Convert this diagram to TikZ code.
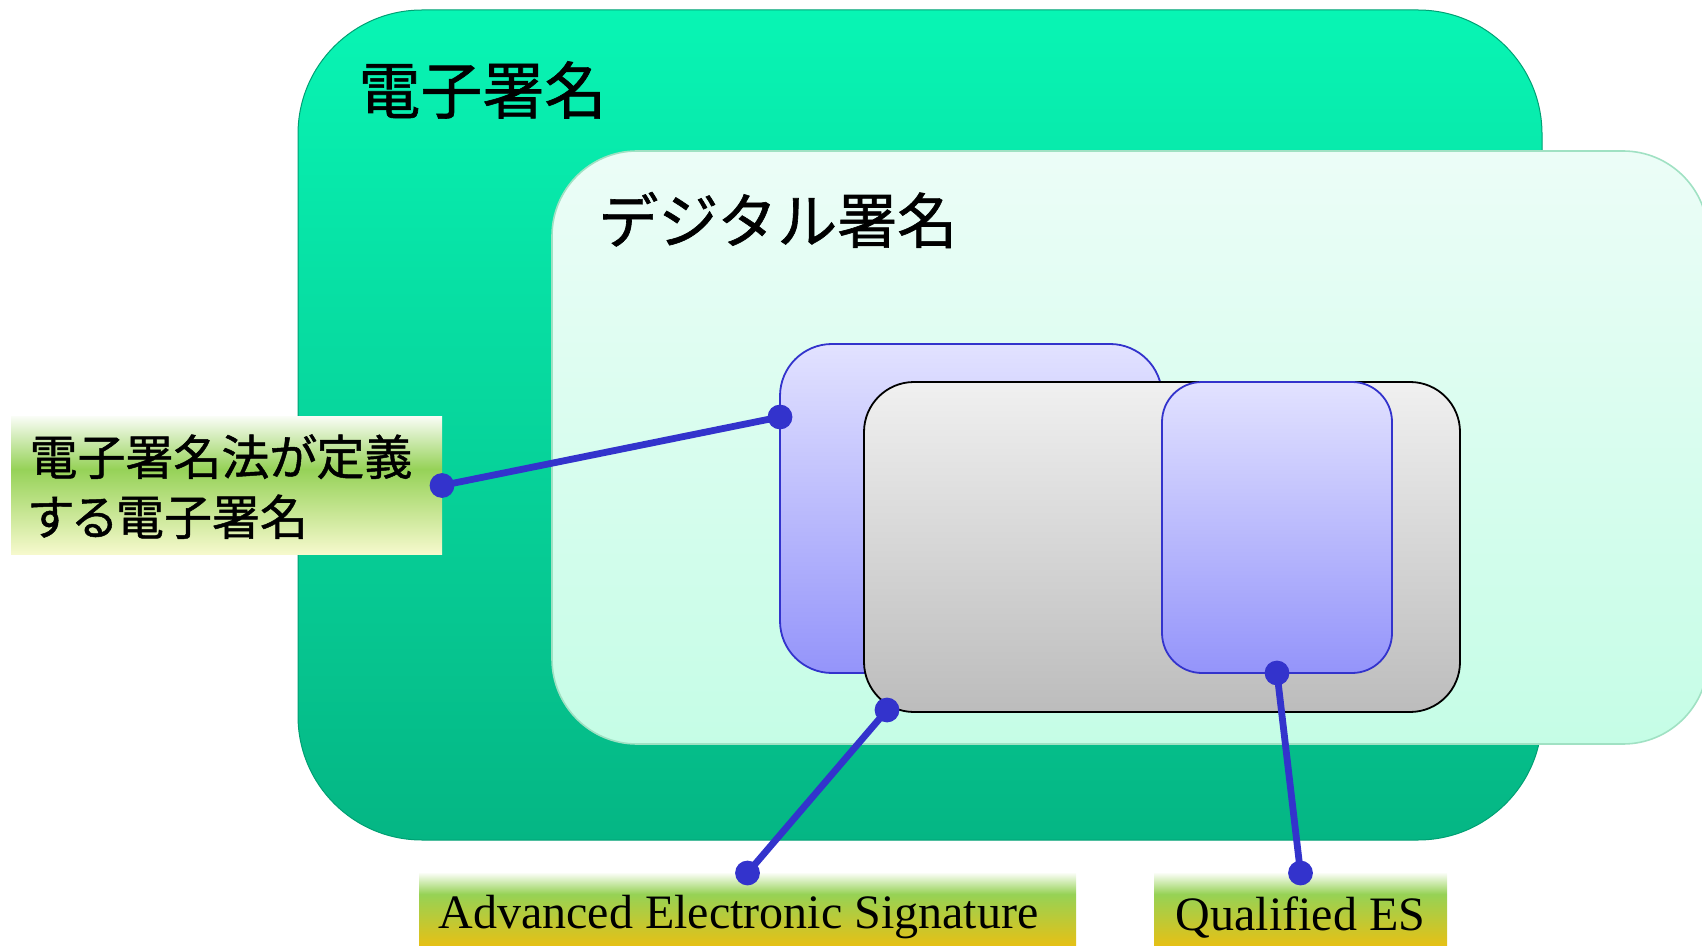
\documentclass[tikz,border=0pt]{standalone}
\usepackage{fontspec}
\setmainfont{Liberation Serif}
\newfontfamily\jp[FakeBold=1]{Noto Sans CJK JP}
\newfontfamily\jpp[FakeBold=1,RawFeature=+palt]{Noto Sans CJK JP}
\usetikzlibrary{calc}
\definecolor{grtop}{RGB}{8,245,180}
\definecolor{grbot}{RGB}{5,182,132}
\definecolor{grline}{RGB}{0,160,115}
\definecolor{mtop}{RGB}{236,253,247}
\definecolor{mbot}{RGB}{197,253,230}
\definecolor{mline}{RGB}{160,225,195}
\definecolor{ptop}{RGB}{226,226,255}
\definecolor{pbot}{RGB}{148,148,250}
\definecolor{pline}{RGB}{51,51,204}
\definecolor{gtop}{RGB}{240,240,240}
\definecolor{gbot}{RGB}{188,188,188}
\definecolor{connc}{RGB}{51,51,204}
\definecolor{lwht}{RGB}{248,252,244}
\definecolor{lgrn}{RGB}{150,210,88}
\definecolor{lyel}{RGB}{246,249,205}
\definecolor{bwht}{RGB}{250,253,246}
\definecolor{bgrn}{RGB}{150,210,85}
\definecolor{bgold}{RGB}{232,192,20}
\pgfdeclareverticalshading{leftlblshade}{100bp}{color(0bp)=(lyel); color(25bp)=(lyel); color(56bp)=(lgrn); color(75bp)=(lwht); color(100bp)=(lwht)}
\pgfdeclareverticalshading{botlblshade}{100bp}{color(0bp)=(bgold); color(33bp)=(bgold); color(63bp)=(bgrn); color(75bp)=(bwht); color(100bp)=(bwht)}
\tikzset{
  box/.style={rectangle, inner sep=0pt, outer sep=0pt},
  purplebox/.style={box, top color=ptop, bottom color=pbot, draw=pline, line width=0.9pt},
  conn/.style={draw=connc, line width=3.4pt},
  dot/.style={fill=connc},
  jptitle/.style={anchor=west, inner sep=0pt, font=\jp\fontsize{#1}{#1}\selectfont},
  botlbl/.style={box, shade, shading=botlblshade, minimum height=44pt, font=\fontsize{24pt}{28pt}\selectfont}
}
\begin{document}
\begin{tikzpicture}[x=0.5pt,y=-0.5pt]
\useasboundingbox (0,0) rectangle (1702,946);
\clip (0,0) rectangle (1702,946);
% outer box
\node[box, minimum width=622pt, minimum height=415pt, rounded corners=62pt,
      top color=grtop, bottom color=grbot, draw=grline, line width=0.5pt] (esig) at (920,425) {};
% inner box
\node[box, minimum width=578pt, minimum height=296.5pt, rounded corners=42.5pt,
      top color=mtop, bottom color=mbot, draw=mline, line width=0.8pt] (digsig) at (1130,447.5) {};
\node[jptitle=31pt] (t1) at (358,90) {電子署名};
\node[jptitle=30pt] (t2) at (598,220) {デジタル署名};
% inner sets
\node[purplebox, minimum width=191pt, minimum height=164.5pt, rounded corners=26pt] (dsl) at (971,508.5) {};
\node[box, minimum width=298pt, minimum height=165pt, rounded corners=25pt,
      top color=gtop, bottom color=gbot, draw=black, line width=0.9pt] (aesbox) at (1162,547) {};
\node[purplebox, minimum width=115pt, minimum height=145.5pt, rounded corners=20pt] (qesbox) at (1277,527.5) {};
% left label
\node[box, shade, shading=leftlblshade, minimum width=215.5pt, minimum height=68.5pt,
      text height=10pt, text depth=20.5pt,
      font=\jpp\fontsize{24pt}{30pt}\selectfont] (lbl) at (226.5,485.5)
      {\hspace*{-5.5pt}\begin{tabular}[t]{@{}l@{}}電子署名法が定義\\する電子署名\end{tabular}};
% bottom labels
\node[botlbl, minimum width=328.5pt] (aes) at (747.5,917) {\hspace*{-9pt}Advanced Electronic Signature};
\node[botlbl, minimum width=146.5pt] (qes) at (1300.5,917) {Qualified ES};
% connectors
\coordinate (dA) at (780,417);
\coordinate (dG) at (887,710);
\draw[conn] (lbl.east) -- (dA);
\draw[conn] (aes.north) -- (dG);
\draw[conn] (qes.north) -- (qesbox.south);
\foreach \p in {lbl.east, dA, aes.north, dG, qes.north, qesbox.south}
  \fill[dot] (\p) circle (6.2pt);
\end{tikzpicture}
\end{document}
